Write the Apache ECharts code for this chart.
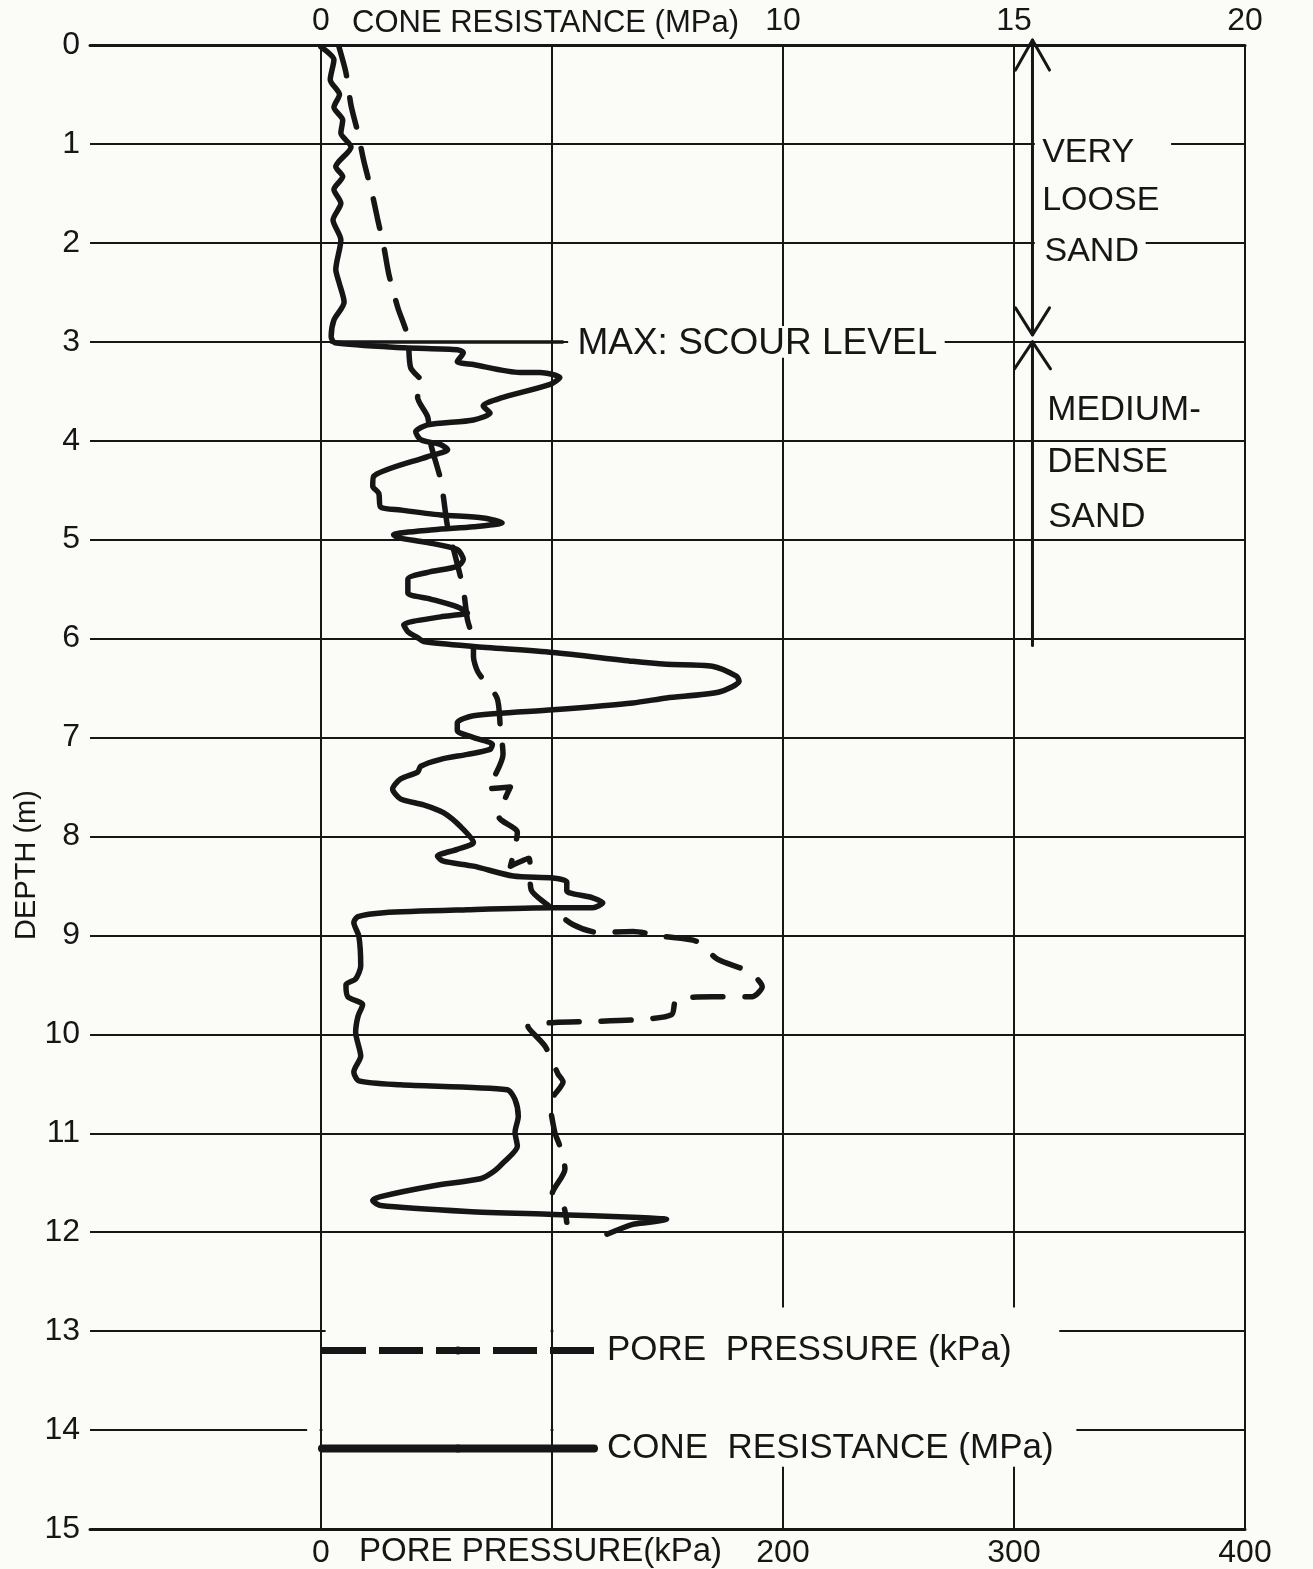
<!DOCTYPE html>
<html>
<head>
<meta charset="utf-8">
<script src="https://cdn.jsdelivr.net/npm/echarts@6/dist/echarts.min.js"></script>
<style>
html,body{margin:0;padding:0;background:#fbfbf8;}
#c{width:1313px;height:1569px;}
</style>
</head>
<body>
<div id="c"></div>
<script>
// ---------- DATA ----------
const depthTicks = [0,1,2,3,4,5,6,7,8,9,10,11,12,13,14,15];
const coneTickLabels = ['', '0', '', '10', '15', '20'];          // for -5,0,5,10,15,20 MPa
const poreTickLabels = ['', '0', '', '200', '300', '400'];       // for -100..400 kPa

const coneName = 'CONE  RESISTANCE (MPa)';
const poreName = 'PORE  PRESSURE (kPa)';

const coneDepth = [0.02,0.15,0.35,0.5,0.63,0.76,0.89,1.03,1.23,1.33,1.46,1.6,1.77,1.97,2.27,2.4,2.6,2.78,2.95,3.01,3.06,3.08,3.11,3.2,3.23,3.31,3.31,3.36,3.43,3.57,3.65,3.72,3.79,3.84,3.91,3.99,4.04,4.09,4.16,4.36,4.46,4.53,4.67,4.7,4.75,4.78,4.83,4.87,4.9,4.95,4.98,5.03,5.1,5.2,5.27,5.33,5.4,5.54,5.6,5.68,5.74,5.78,5.86,5.93,5.99,6.03,6.08,6.14,6.23,6.26,6.28,6.38,6.43,6.54,6.6,6.65,6.72,6.78,6.85,6.93,7.0,7.07,7.12,7.17,7.22,7.29,7.35,7.42,7.52,7.62,7.68,7.76,7.9,8.06,8.13,8.2,8.25,8.3,8.4,8.42,8.46,8.55,8.62,8.67,8.72,8.72,8.74,8.77,8.81,8.87,9.01,9.31,9.44,9.5,9.62,9.7,9.82,9.98,10.22,10.38,10.47,10.51,10.56,10.66,10.83,10.99,11.13,11.3,11.39,11.46,11.53,11.64,11.68,11.73,11.79,11.82,11.85,11.87,11.9,11.92,12.02];
const coneMPa = [0.0,0.28,0.2,0.4,0.28,0.47,0.43,0.65,0.32,0.47,0.28,0.43,0.26,0.43,0.32,0.39,0.5,0.28,0.22,0.3,1.8,2.95,3.08,2.95,3.3,4.31,4.74,5.17,4.96,3.88,3.51,3.66,3.3,2.31,2.05,2.16,2.59,2.74,2.31,1.14,1.12,1.25,1.29,1.72,2.59,3.51,3.92,3.3,2.44,1.57,1.66,2.31,2.95,3.08,2.95,2.31,1.88,1.88,2.37,2.95,3.17,2.59,1.79,1.88,2.09,2.22,3.3,5.02,6.75,7.48,8.47,8.99,9.05,8.62,7.48,6.75,5.02,3.3,2.95,2.95,3.3,3.71,3.66,3.17,2.59,2.16,2.09,1.72,1.55,1.72,2.22,2.65,3.02,3.3,2.95,2.52,2.65,3.3,4.16,5.02,5.32,5.32,5.88,6.1,5.88,5.02,3.17,1.36,0.8,0.71,0.82,0.86,0.75,0.54,0.58,0.9,0.8,0.75,0.86,0.71,0.82,1.72,4.03,4.2,4.27,4.2,4.25,3.94,3.73,3.45,2.44,1.29,1.12,1.29,3.17,5.02,6.75,7.48,7.11,6.75,6.19];

const poreDepth = [0.02,0.28,0.61,0.89,1.18,1.53,1.77,2.04,2.32,2.65,2.95,3.26,3.43,3.56,3.76,4.02,4.39,4.57,4.87,5.1,5.5,5.81,6.04,6.18,6.34,6.6,6.89,7.17,7.52,7.5,7.8,7.96,8.3,8.22,8.54,8.69,8.89,8.97,8.96,9.01,9.06,9.24,9.37,9.52,9.62,9.62,9.65,9.8,9.85,9.87,9.88,9.92,10.12,10.4,10.48,10.69,10.99,11.13,11.36,11.62,11.72,11.9];
const poreKPa = [7.8,10.8,13.0,16.0,18.6,22.4,24.6,27.2,29.4,33.2,37.6,38.8,44.4,41.8,46.2,47.4,51.8,53.0,54.8,57.4,61.6,63.4,66.0,66.0,68.0,76.2,77.6,78.8,72,82,77,85,82,90,91,98,109,120,135,148,162.6,171.6,185.4,191,186.6,169.4,153.8,151.8,138,116.4,101.2,89.6,97,102.6,104.8,99.2,101.2,103.4,105.6,100,104.8,106.4];

// scour level line (depth, from MPa, to MPa)
const scourDepth = 3;
const scourFromMPa = 0.2;
const scourToMPa = 5.25;

// soil zones (depth limits)
const zoneLooseTop = -0.05, zoneLooseBottom = 2.93, zoneDenseTop = 3.0, zoneDenseBottom = 6.07;
const zoneArrowMPa = 15.4;

// ---------- STYLE ----------
const INK = '#161616';
const BG = '#fbfbf8';
const FONT = '"Liberation Sans", Arial, sans-serif';

const coneData = coneDepth.map((d, i) => [coneMPa[i], d]);
const poreData = poreDepth.map((d, i) => [poreKPa[i], d]);

const chart = echarts.init(document.getElementById('c'), null, {renderer: 'canvas'});

const option = {
  backgroundColor: BG,
  animation: false,
  grid: {left: 90, right: 68, top: 45, bottom: 39, containLabel: false},
  xAxis: [
    {
      type: 'value', position: 'top', min: -5, max: 20, interval: 5,
      axisLine: {show: true, lineStyle: {color: INK, width: 3}},
      axisTick: {show: false},
      axisLabel: {
        margin: 8, color: INK, fontSize: 32, fontFamily: FONT,
        formatter: v => coneTickLabels[Math.round((v + 5) / 5)] || ''
      },
      splitLine: {show: true, lineStyle: {color: ['rgba(0,0,0,0)', INK, INK, INK, INK, INK], width: 2}}
    },
    {
      type: 'value', position: 'bottom', min: -100, max: 400, interval: 100,
      axisLine: {show: true, lineStyle: {color: INK, width: 3}},
      axisTick: {show: false},
      axisLabel: {
        margin: 8, color: INK, fontSize: 32, fontFamily: FONT,
        formatter: v => poreTickLabels[Math.round((v + 100) / 100)] || ''
      },
      splitLine: {show: false}
    }
  ],
  yAxis: {
    type: 'value', inverse: true, min: 0, max: 15, interval: 1,
    axisLine: {show: false}, axisTick: {show: false},
    axisLabel: {margin: 10, color: INK, fontSize: 32, fontFamily: FONT,
      formatter: v => depthTicks.indexOf(v) >= 0 ? String(v) : ''},
    splitLine: {show: true, lineStyle: {color: INK, width: 2}}
  },
  legend: {
    orient: 'vertical', left: 318, top: 1333, padding: 0, itemWidth: 272, itemHeight: 10, itemGap: 63,
    selectedMode: false,
    textStyle: {fontSize: 35, fontFamily: FONT, color: INK, padding: [0, 0, 0, 8]},
    data: [
      {name: poreName, lineStyle: {type: [44, 13], width: 7, color: INK, cap: 'butt'}},
      {name: coneName, lineStyle: {type: 'solid', width: 8, color: INK}}
    ]
  },
  series: [
    {
      name: poreName, type: 'line', xAxisIndex: 1, yAxisIndex: 0, z: 5,
      data: poreData, showSymbol: false, symbol: 'none', smooth: 0.25,
      lineStyle: {color: INK, width: 5.5, type: [30, 22], cap: 'round', join: 'round'},
      itemStyle: {color: INK}
    },
    {
      name: coneName, type: 'line', xAxisIndex: 0, yAxisIndex: 0, z: 6,
      data: coneData, showSymbol: false, symbol: 'none', smooth: 0.25,
      lineStyle: {color: INK, width: 5.5, cap: 'round', join: 'round'},
      itemStyle: {color: INK},
      markLine: {
        silent: true, symbol: 'none', label: {show: false},
        lineStyle: {color: INK, width: 3.5, type: 'solid'},
        data: [[{coord: [scourFromMPa, scourDepth]}, {coord: [scourToMPa, scourDepth]}]]
      }
    }
  ]
};
chart.setOption(option);

function P(x, d) { return chart.convertToPixel({xAxisIndex: 0, yAxisIndex: 0}, [x, d]); }

const g = [];
function mask(x0, x1, d, half) {
  const a = P(x0, d), b = P(x1, d);
  g.push({type: 'rect', z: 1, silent: true, shape: {x: a[0], y: a[1] - half, width: b[0] - a[0], height: 2 * half}, style: {fill: BG}});
}
function maskBox(x0, x1, d0, d1) {
  const a = P(x0, d0), b = P(x1, d1);
  g.push({type: 'rect', z: 1, silent: true, shape: {x: a[0], y: a[1], width: b[0] - a[0], height: b[1] - a[1]}, style: {fill: BG}});
}
function text(str, x, d, size, align, opts) {
  const p = P(x, d);
  g.push(Object.assign({type: 'text', z: 10, silent: true, x: p[0], y: p[1],
    style: {text: str, x: 0, y: 0, font: size + 'px ' + FONT, fill: INK, textAlign: align || 'left', textVerticalAlign: 'middle'}}, opts || {}));
}
function line(points, w) {
  g.push({type: 'polyline', z: 10, silent: true, shape: {points: points}, style: {stroke: INK, lineWidth: w, fill: null, lineCap: 'round', lineJoin: 'round'}});
}

// gaps in grid lines around the lettering
mask(15.45, 18.4, 1, 6);
mask(15.45, 17.85, 2, 6);
maskBox(5.35, 13.5, 2.84, 3.16);
mask(0.1, 4.97, 13, 6);
mask(5.03, 15.98, 13, 6);
mask(-0.3, -0.03, 14, 6);
mask(0.03, 4.97, 14, 6);
mask(5.03, 16.35, 14, 6);
maskBox(5.3, 15.9, 12.76, 14.37);

// zone arrows
const t = P(zoneArrowMPa, zoneLooseTop), m1 = P(zoneArrowMPa, zoneLooseBottom),
      m2 = P(zoneArrowMPa, zoneDenseTop), bt = P(zoneArrowMPa, zoneDenseBottom);
line([t, m1], 3);
line([m2, bt], 3);
line([[t[0] - 17, t[1] + 30], t, [t[0] + 17, t[1] + 30]], 3);
line([[m1[0] - 17, m1[1] - 27], m1, [m1[0] + 17, m1[1] - 27]], 3);
line([[m2[0] - 18, m2[1] + 27], m2, [m2[0] + 18, m2[1] + 27]], 3);

// annotations
text('VERY', 15.61, 1.09, 34);
text('LOOSE', 15.61, 1.57, 34);
text('SAND', 15.66, 2.09, 34);
text('MEDIUM-', 15.72, 3.69, 35);
text('DENSE', 15.72, 4.22, 35);
text('SAND', 15.74, 4.77, 35);
text('MAX: SCOUR LEVEL', 5.55, 3.02, 37);

// axis titles
g.push({type: 'text', z: 10, silent: true, x: 352, y: 23,
  style: {text: 'CONE RESISTANCE (MPa)', font: '31px ' + FONT, fill: INK, textAlign: 'left', textVerticalAlign: 'middle'}});
g.push({type: 'text', z: 10, silent: true, x: 359, y: 1552,
  style: {text: 'PORE PRESSURE(kPa)', font: '33px ' + FONT, fill: INK, textAlign: 'left', textVerticalAlign: 'middle'}});
g.push({type: 'text', z: 10, silent: true, x: 27, y: 865, rotation: Math.PI / 2,
  style: {text: 'DEPTH (m)', font: '29px ' + FONT, fill: INK, textAlign: 'center', textVerticalAlign: 'middle'}});

chart.setOption({graphic: g});
</script>
</body>
</html>
